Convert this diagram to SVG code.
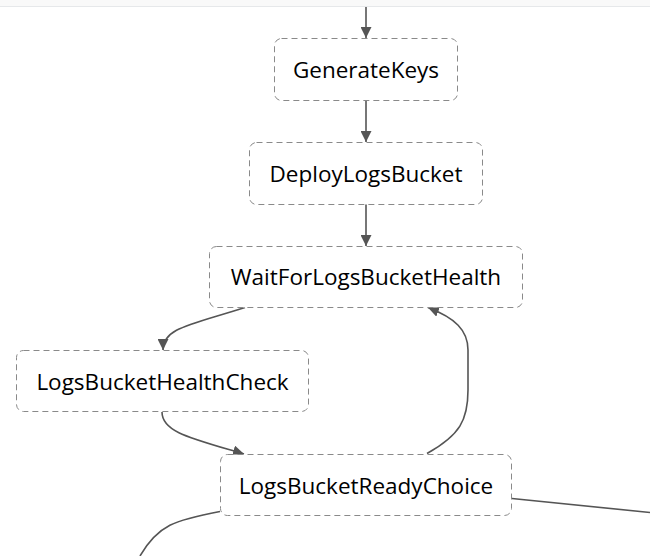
<svg xmlns="http://www.w3.org/2000/svg" width="650" height="556" viewBox="0 0 650 556">
<style>
.node rect{fill:#fff;stroke:#8a8a8a;stroke-width:1;stroke-dasharray:6 4}
.node text{font-family:"Open Sans","Noto Sans",sans-serif;font-size:22.5px;fill:#000;text-anchor:middle;dominant-baseline:central}
.edge{fill:none;stroke:#555;stroke-width:1.6}
</style>
<defs>
<marker id="arr" viewBox="0 0 10 10" refX="10" refY="5" markerWidth="11" markerHeight="11" markerUnits="userSpaceOnUse" orient="auto">
<path d="M0,0 L10,5 L0,10 z" fill="#555"/>
</marker>
</defs>
<rect x="0" y="0" width="650" height="6" fill="#f9f9f9"/>
<line x1="0" y1="6.5" x2="650" y2="6.5" stroke="#e6e8ea" stroke-width="1"/>
<g id="connectors">
<path class="edge" d="M366,7 L366,38" marker-end="url(#arr)"/>
<path class="edge" d="M366,100 L366,142" marker-end="url(#arr)"/>
<path class="edge" d="M366,204 L366,246" marker-end="url(#arr)"/>
<path class="edge" d="M245,307.5 C190,325 163,328 163,350" marker-end="url(#arr)"/>
<path class="edge" d="M162,412 C162,432 190,438 244,454" marker-end="url(#arr)"/>
<path class="edge" d="M427,453.5 C460,435 468,420 468,390 L468,350 C468,330 455,318 428,307.5" marker-end="url(#arr)"/>
<path class="edge" d="M220,511.5 C175,520 158,525 140,556"/>
<path class="edge" d="M512,498.5 L650,512.5"/>
</g>
<g id="GenerateKeys" class="node"><rect x="274.5" y="38.5" width="183" height="62" rx="7"/><text x="366" y="69">GenerateKeys</text></g>
<g id="DeployLogsBucket" class="node"><rect x="249.5" y="142.5" width="233" height="62" rx="7"/><text x="366" y="173">DeployLogsBucket</text></g>
<g id="WaitForLogsBucketHealth" class="node"><rect x="209.5" y="246.5" width="313" height="61" rx="7"/><text x="366" y="276">WaitForLogsBucketHealth</text></g>
<g id="LogsBucketHealthCheck" class="node"><rect x="16.5" y="350.5" width="292" height="61" rx="7"/><text x="162.5" y="381">LogsBucketHealthCheck</text></g>
<g id="LogsBucketReadyChoice" class="node"><rect x="220.5" y="454.5" width="291" height="61" rx="7"/><text x="366" y="485">LogsBucketReadyChoice</text></g>
</svg>
